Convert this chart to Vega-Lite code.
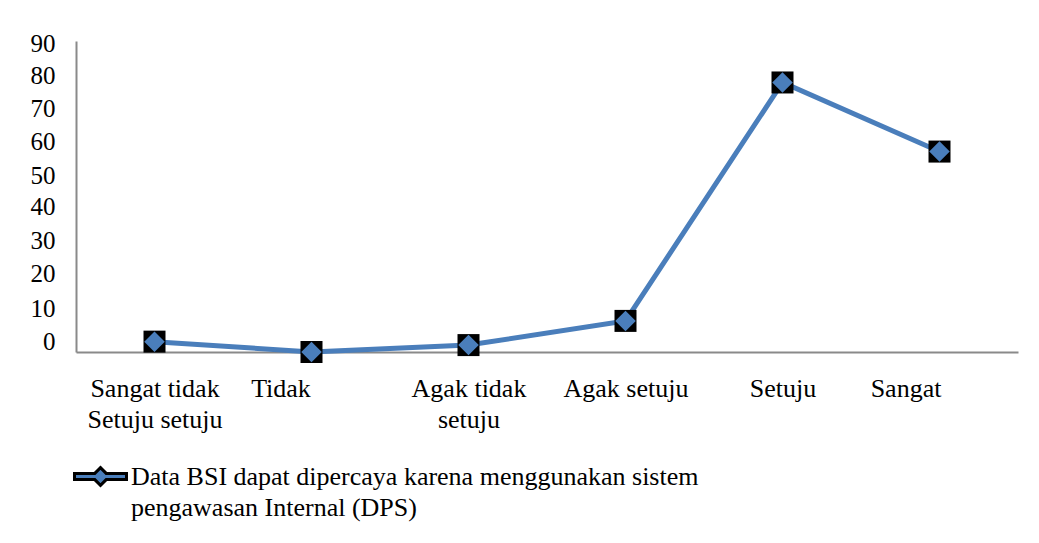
{
  "$schema": "https://vega.github.io/schema/vega-lite/v6.json",
  "autosize": {"type": "none"},
  "width": 942,
  "height": 311,
  "padding": {"left": 76, "top": 41, "right": 21, "bottom": 191},
  "background": "white",
  "config": {
    "view": {"stroke": null},
    "font": "'Liberation Serif', 'Times New Roman', 'DejaVu Serif', serif",
    "style": {"guide-label": {"lineHeight": 31, "font": "'Liberation Serif', 'Times New Roman', 'DejaVu Serif', serif"}},
    "axis": {"labelFont": "'Liberation Serif', 'Times New Roman', 'DejaVu Serif', serif", "labelFontSize": 25, "labelColor": "black", "grid": false, "ticks": false, "domainColor": "#8a8a8a", "domainWidth": 2, "title": null}
  },
  "data": {
    "values": [
      {"kategori": "Sangat tidak setuju", "nilai": 3, "seri": "Data BSI dapat dipercaya karena menggunakan sistem pengawasan Internal (DPS)"},
      {"kategori": "Tidak setuju", "nilai": 0, "seri": "Data BSI dapat dipercaya karena menggunakan sistem pengawasan Internal (DPS)"},
      {"kategori": "Agak tidak setuju", "nilai": 2, "seri": "Data BSI dapat dipercaya karena menggunakan sistem pengawasan Internal (DPS)"},
      {"kategori": "Agak setuju", "nilai": 9, "seri": "Data BSI dapat dipercaya karena menggunakan sistem pengawasan Internal (DPS)"},
      {"kategori": "Setuju", "nilai": 78, "seri": "Data BSI dapat dipercaya karena menggunakan sistem pengawasan Internal (DPS)"},
      {"kategori": "Sangat setuju", "nilai": 58, "seri": "Data BSI dapat dipercaya karena menggunakan sistem pengawasan Internal (DPS)"}
    ]
  },
  "encoding": {
    "x": {
      "field": "kategori", "type": "nominal", "sort": null,
      "scale": {"type": "point", "padding": 0.5},
      "axis": {
        "labelAngle": 0, "labelPadding": 23, "labelLineHeight": 31, "labelLimit": 300, "labelFontSize": 26,
        "labelExpr": "datum.value == 'Sangat tidak setuju' ? ['Sangat tidak', 'Setuju setuju'] : datum.value == 'Tidak setuju' ? 'Tidak' : datum.value == 'Agak tidak setuju' ? ['Agak tidak', 'setuju'] : datum.value == 'Sangat setuju' ? 'Sangat' : datum.value",
        "labelOffset": {"condition": [{"test": "datum.value == 'Tidak setuju'", "value": -31}, {"test": "datum.value == 'Sangat setuju'", "value": -34}], "value": 0}
      }
    },
    "y": {
      "field": "nilai", "type": "quantitative",
      "scale": {"domain": [0, 90], "nice": false},
      "axis": {
        "values": [0, 10, 20, 30, 40, 50, 60, 70, 80, 90], "labelPadding": 21,
        "labelOffset": {"condition": [
          {"test": "datum.value == 0", "value": -11},
          {"test": "datum.value == 10", "value": -9},
          {"test": "datum.value == 20", "value": -9},
          {"test": "datum.value == 30", "value": -8},
          {"test": "datum.value == 40", "value": -7},
          {"test": "datum.value == 50", "value": -4},
          {"test": "datum.value == 60", "value": -3},
          {"test": "datum.value == 70", "value": -2},
          {"test": "datum.value == 90", "value": 2}
        ], "value": 0}
      }
    }
  },
  "layer": [
    {"mark": {"type": "line", "color": "#4a7ebb", "strokeWidth": 5}},
    {"mark": {"type": "point", "shape": "square", "filled": true, "color": "black", "size": 484, "opacity": 1}},
    {
      "mark": {"type": "point", "shape": "diamond", "filled": true, "size": 420, "opacity": 1},
      "encoding": {
        "color": {
          "field": "seri", "type": "nominal",
          "scale": {"range": ["#4a7ebb"]},
          "legend": {
            "title": null, "orient": "none", "legendX": -3, "legendY": 408, "padding": 0,
            "symbolType": "M-1,-0.12H-0.22L0,-0.34L0.22,-0.12H1V0.12H0.22L0,0.34L-0.22,0.12H-1Z",
            "symbolSize": 2704, "symbolFillColor": "#4a7ebb", "symbolStrokeColor": "black", "symbolStrokeWidth": 3, "symbolOpacity": 1,
            "labelFont": "'Liberation Serif', 'Times New Roman', 'DejaVu Serif', serif", "labelFontSize": 26, "labelColor": "black", "labelLimit": 750, "labelOffset": 3,
            "labelExpr": "['Data BSI dapat dipercaya karena menggunakan sistem', 'pengawasan Internal (DPS)']"
          }
        }
      }
    }
  ]
}
